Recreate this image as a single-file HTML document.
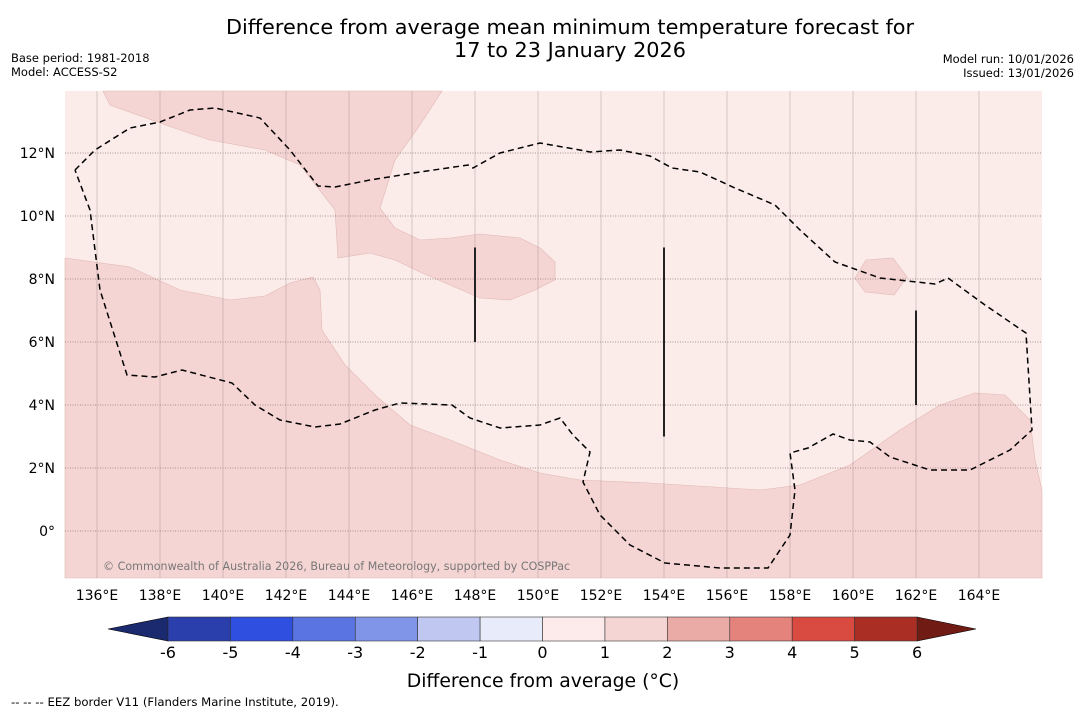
<!DOCTYPE html>
<html><head><meta charset="utf-8">
<style>
body{margin:0;background:#fff;width:1085px;height:713px;overflow:hidden;font-family:"Liberation Sans","DejaVu Sans",sans-serif;}
svg{display:block}
</style></head>
<body>
<svg id="chart" width="1085" height="713" xmlns="http://www.w3.org/2000/svg" font-family="DejaVu Sans, Liberation Sans, sans-serif">
<text x="570" y="34" font-size="20.8" text-anchor="middle">Difference from average mean minimum temperature forecast for</text>
<text x="570" y="57" font-size="20.8" text-anchor="middle">17 to 23 January 2026</text>
<text x="11" y="62" font-size="11.5">Base period: 1981-2018</text>
<text x="11" y="76" font-size="11.5">Model: ACCESS-S2</text>
<text x="1074" y="63" font-size="11.5" text-anchor="end">Model run: 10/01/2026</text>
<text x="1074" y="77" font-size="11.5" text-anchor="end">Issued: 13/01/2026</text>
<g id="map">
<rect x="65" y="91" width="977" height="487" fill="#fbebe9"/>
<polygon fill="#f5d5d3" stroke="#e0b8b5" stroke-width="0.6" points="103,91 110,105 180,130 210,140 265,150 300,165 335,210 338,258 370,253 395,260 420,272 450,285 480,298 510,300 535,290 555,280 555,262 540,248 520,238 480,234 450,238 420,240 395,228 380,208 395,160 420,125 442,91"/>
<polygon fill="#f5d5d3" stroke="#e0b8b5" stroke-width="0.6" points="65,258 130,267 180,290 230,300 265,296 290,283 313,277 320,290 322,330 345,365 375,395 410,425 450,440 500,460 540,473 580,480 650,483 760,490 800,485 850,465 900,430 940,405 975,393 1005,395 1030,420 1035,460 1042,490 1042,578 65,578"/>
<polygon fill="#f5d5d3" stroke="#e0b8b5" stroke-width="0.6" points="855,278 866,260 893,258 907,277 894,295 865,292"/>
<g id="grid"></g>
<polyline fill="none" stroke="#000" stroke-width="1.5" stroke-dasharray="6,4" points="75,170 95,150 130,128 160,122 190,110 215,108 260,118 290,150 318,186 335,187 370,180 420,172 468,165 473,168 500,153 540,143 580,150 590,152 620,150 650,156 672,168 700,172 735,188 775,205 800,230 835,262 880,278 935,284 948,278 985,305 1026,333 1032,430 1010,450 970,470 930,470 890,457 870,442 850,440 833,434 808,448 790,453 795,490 790,535 768,568 720,568 665,563 630,545 600,515 583,482 590,452 573,435 560,418 540,425 500,428 470,418 452,405 400,403 375,410 340,424 315,427 280,420 255,405 232,383 182,370 155,377 127,375 100,290 90,210 75,170"/>
<g id="bars"></g>
<text x="103" y="570" font-size="11.1" fill="#777">© Commonwealth of Australia 2026, Bureau of Meteorology, supported by COSPPac</text>
</g>
<g id="xticks"></g><g id="yticks"></g>
<g id="colorbar"></g>
<text x="543" y="687" font-size="18.8" text-anchor="middle">Difference from average (°C)</text>
<text x="11" y="706" font-size="11.7">--  --  -- EEZ border V11 (Flanders Marine Institute, 2019).</text>
</svg>
<script>
const lonTicks=[136,138,140,142,144,146,148,150,152,154,156,158,160,162,164];
const latTicks=[12,10,8,6,4,2,0];
const latLabels=["12°N","10°N","8°N","6°N","4°N","2°N","0°"];
const cbBounds=[-6,-5,-4,-3,-2,-1,0,1,2,3,4,5,6];
const cbColors=["#2a3fac","#2e4fe0","#5a75e2","#8195e8","#c0c8f2","#e8ebf9","#fcebea","#f5d5d3","#eaaaa6","#e4837c","#d94a40","#ab2e25"];
const segLon=[148,154,162];
const segLatTop=[9,9,7];
const segLatBot=[6,3,4];
const NS="http://www.w3.org/2000/svg";
const xLon=l=>97+(l-136)*31.5;
const yLat=l=>531-l*31.5;
const xCb=v=>168+(v+6)*62.42;
function mk(t,a,p){const e=document.createElementNS(NS,t);for(const k in a)e.setAttribute(k,a[k]);p.appendChild(e);return e;}
const grid=document.getElementById('grid');
lonTicks.forEach(l=>{const e=mk('line',{x1:xLon(l),x2:xLon(l),y1:91,y2:578,stroke:'#a09090','stroke-width':0.6,'stroke-opacity':0.7},grid);


const t=mk('text',{x:xLon(l),y:600,'font-size':14,'text-anchor':'middle'},document.getElementById('xticks'));t.textContent=l+'°E';

});
latTicks.forEach((l,i)=>{const e=mk('line',{x1:65,x2:1042,y1:yLat(l),y2:yLat(l),stroke:'#907878','stroke-width':0.8,'stroke-dasharray':'1,1.5'},grid);


const t=mk('text',{x:55,y:yLat(l)+5,'font-size':14,'text-anchor':'end'},document.getElementById('yticks'));t.textContent=latLabels[i];

});
const bars=document.getElementById('bars');
segLon.forEach((l,i)=>{const e=mk('line',{x1:xLon(l),x2:xLon(l),y1:yLat(segLatTop[i]),y2:yLat(segLatBot[i]),stroke:'#222','stroke-width':2},bars);

});
const cb=document.getElementById('colorbar');
const y0=617,y1=641;
let e=mk('polygon',{points:`${xCb(-6)},${y0} 108,629 ${xCb(-6)},${y1}`,fill:'#1b2a6e',stroke:'#000','stroke-width':0.6},cb);


e=mk('polygon',{points:`${xCb(6)},${y0} 976,629 ${xCb(6)},${y1}`,fill:'#701c15',stroke:'#000','stroke-width':0.6},cb);


cbColors.forEach((c,i)=>{const r=mk('rect',{x:xCb(cbBounds[i]),y:y0,width:xCb(cbBounds[i+1])-xCb(cbBounds[i]),height:y1-y0,fill:c,stroke:'#333','stroke-width':0.6},cb);

});
cbBounds.forEach(v=>{const t=mk('text',{x:xCb(v),y:658,'font-size':16,'text-anchor':'middle'},cb);t.textContent=v;

});
</script>
</body></html>
